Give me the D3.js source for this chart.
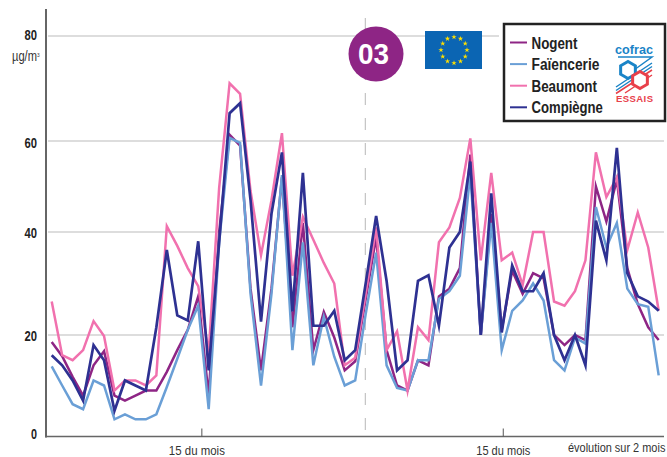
<!DOCTYPE html>
<html><head><meta charset="utf-8">
<style>html,body{margin:0;padding:0;background:#fff}svg{display:block}text{font-family:"Liberation Sans",sans-serif}</style>
<script src="https://cdn.jsdelivr.net/npm/d3@7"></script>
</head><body><svg id="c" width="667" height="457"></svg>
<script>
const nogent=[18.6,15.8,11.7,8,14,16.8,8,7,8,9,9,12.7,17,21,27.5,8,40,61.2,59,29,13,29,52,21.5,42,17,24.5,19.5,13,14.8,27,39,17,10,9,15,14,27.5,29,33,57,20,44,21,32.5,28,32,31,20,18,20,19,50,42.3,51.5,33,26,21.5,19];
const faiencerie=[13.8,10,6.3,5.3,11,10,3.3,4.3,3.3,3.3,4.3,9.7,15.3,21,25.7,5.3,38,60.6,59.6,28,10,28,52.5,17,38,14,23.5,15.7,10,11,24,36,14,9.5,9,15,15,27,28.5,31.5,53,20,42,17,24.7,26.7,30,26.7,15,13,19.5,18.3,45.5,37,42,29,26,25.5,12];
const beaumont=[26.5,16,15,17,22.7,19.8,9,11,11,10,12,41.3,37.3,33,29.5,16.5,49.7,71,69,49,35.5,47,61.5,31.5,43.3,38.5,34,30,14,15.5,28,41,17,20.7,9,21.5,19,38,41,47.5,60.5,34.5,53,34.5,36,29.7,40,40,26.5,25.7,28.5,34.5,57.5,47.7,52,36.5,44.3,37,24.7];
const compiegne=[16,14,11,7,18,15,5,11,10,9,21.5,36.5,23.8,22.8,38.2,13,38,65.3,67.2,47,22.6,44,57.5,24.6,53,21.8,21.8,24.7,15,17,30,43.5,30.5,13,15,30.5,31.6,21.8,37,40,55.5,20,48.5,20.5,33.5,28.5,28.5,32,20,15,20,14,42.5,34.5,58.5,32,27.5,26.5,24.7];
const seriesNames=["Nogent","Faïencerie","Beaumont","Compiègne"];
const seriesColors=["#8e2585","#6a9fd6","#f171ae","#2e3192"];
const seriesData=[nogent,faiencerie,beaumont,compiegne];
const yTicks=[0,20,40,60,80];
const xTickPositions=[14.3,43.1];
const xTickLabels=["15 du mois","15 du mois"];

const svg=d3.select("#c");
const x=d3.scaleLinear().domain([0,58]).range([51.7,658.7]);
const y=d3.scaleLinear().domain(yTicks).range([436,335,232,141,36]);

// squeeze a text horizontally to a given width, standing in for a condensed face
function condensed(parent,str,px,py,size,width,weight,fill){
  const t=parent.append("text").attr("font-size",size).attr("font-weight",weight).attr("fill",fill).text(str);
  const natural=t.node().getComputedTextLength();
  t.attr("transform",`translate(${px},${py}) scale(${width/natural},1)`);
  return t;
}

// grid
const gridEnd={80:499,60:664,40:664,20:664};
svg.append("g").selectAll("line").data(yTicks.slice(1)).join("line")
 .attr("x1",48).attr("x2",d=>gridEnd[d]).attr("y1",d=>y(d)).attr("y2",d=>y(d))
 .attr("stroke","#d2d2d2").attr("stroke-width",1.4);
// midpoint divider
svg.append("line").attr("x1",x(29.97)).attr("x2",x(29.97)).attr("y1",18).attr("y2",435)
 .attr("stroke","#c4c4c4").attr("stroke-width",1.2).attr("stroke-dasharray","12 13");

// axes
const labelDy={0:2,20:5,40:5,60:6,80:3};
const yAxis=svg.append("g").attr("transform","translate(46,0)")
 .call(d3.axisLeft(y).tickValues(yTicks).tickSize(0).tickPadding(9));
yAxis.select(".domain").remove();
yAxis.selectAll("text").attr("font-size",15.5).attr("font-weight",700).attr("fill","#222")
 .attr("dy",d=>labelDy[d]).attr("textLength",d=>d===0?6:12.5).attr("lengthAdjust","spacingAndGlyphs");
svg.append("line").attr("x1",46).attr("x2",46).attr("y1",9).attr("y2",437.5).attr("stroke","#666").attr("stroke-width",2);

const xAxis=svg.append("g").attr("transform","translate(0,436.5)")
 .call(d3.axisBottom(x).tickValues(xTickPositions).tickFormat((d,i)=>xTickLabels[i]).tickSizeInner(-8).tickSizeOuter(0).tickPadding(16));
xAxis.select(".domain").attr("d","M45,0H664").attr("stroke","#666").attr("stroke-width",1.6);
xAxis.selectAll("line").attr("stroke","#555").attr("stroke-width",1);
xAxis.selectAll("text").attr("font-size",13.5).attr("fill","#333").attr("dy","0").attr("y",18.5)
 .attr("x",(d,i)=>i===0?-5:0).attr("textLength",(d,i)=>i===0?56:54).attr("lengthAdjust","spacingAndGlyphs");

const unit=condensed(svg,"µg/m",12,61,14,25,400,"#333");
unit.append("tspan").attr("font-size",6).attr("dy",-4).text("3");
condensed(svg,"évolution sur 2 mois",568,452,13.5,97.5,400,"#333");

// lines
const line=d3.line().x((d,i)=>x(i)).y(d=>y(d));
svg.append("g").selectAll("path").data(seriesData).join("path")
 .attr("d",line).attr("fill","none").attr("stroke",(d,i)=>seriesColors[i])
 .attr("stroke-width",(d,i)=>i==3?2.7:2.5).attr("stroke-linejoin","miter").attr("stroke-miterlimit",6);

// badge
svg.append("circle").attr("cx",376).attr("cy",54).attr("r",27.5).attr("fill","#8e2585");
condensed(svg,"03",358,64,30,31,700,"#fff");

// EU flag
svg.append("rect").attr("x",425).attr("y",31).attr("width",57).attr("height",38).attr("fill","#0b65b3");
const star=d3.symbol().type(d3.symbolStar).size(9);
svg.append("g").selectAll("path").data(d3.range(12)).join("path").attr("d",star)
 .attr("transform",d=>`translate(${454+13*Math.sin(d*Math.PI/6)},${50-13*Math.cos(d*Math.PI/6)})`).attr("fill","#ffe000");

// legend
const legendTextWidths=[46,68,65.5,71.5];
svg.append("rect").attr("x",504).attr("y",24).attr("width",161).attr("height",97).attr("fill","#fff").attr("stroke","#222").attr("stroke-width",2.5);
const leg=svg.append("g").selectAll("g").data(seriesNames).join("g").attr("transform",(d,i)=>`translate(510,${42.5+i*21.6})`);
leg.append("line").attr("x2",17).attr("stroke",(d,i)=>seriesColors[i]).attr("stroke-width",2);
leg.each(function(d,i){condensed(d3.select(this),d,21.5,6,17,legendTextWidths[i],700,"#222");});

// cofrac logo
const logo=svg.append("g");
condensed(logo,"cofrac",615,53.5,13,38,700,"#1a84c7");
const hex=(cx,cy,r)=>d3.line()(d3.range(6).map(i=>[cx+r*Math.sin(Math.PI/3*i),cy+r*Math.cos(Math.PI/3*i)]))+"Z";
logo.append("path").attr("d","M618,57H652L634,70M616,87L652,63M616,90.5L652,66.5").attr("fill","none").attr("stroke","#1a84c7").attr("stroke-width",1.5);
logo.append("path").attr("d",hex(628,70,8.5)).attr("fill","#fff").attr("stroke","#1a84c7").attr("stroke-width",3);
logo.append("path").attr("d","M616,93.5L652,70M625,93L652,75").attr("fill","none").attr("stroke","#e8404a").attr("stroke-width",1.5);
logo.append("path").attr("d",hex(640,80,8.5)).attr("fill","#fff").attr("stroke","#e8404a").attr("stroke-width",3);
logo.append("text").attr("x",616).attr("y",102).attr("font-size",9.5).attr("font-weight",700).attr("fill","#e8404a").attr("textLength",37).attr("lengthAdjust","spacing").text("ESSAIS");
</script></body></html>
